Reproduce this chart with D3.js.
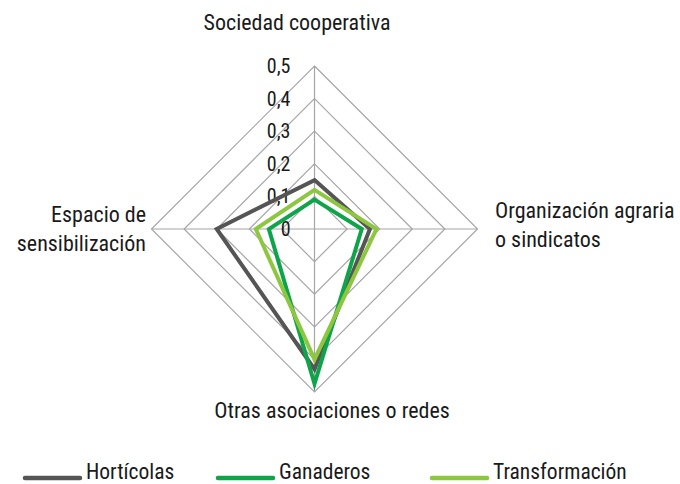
<!DOCTYPE html>
<html><head><meta charset="utf-8">
<script src="https://cdn.jsdelivr.net/npm/d3@7"></script>
<style>
body{margin:0;background:#fff;}
text{font-family:"Liberation Sans Narrow","Arial Narrow","Roboto Condensed","Liberation Sans",sans-serif;fill:#1a1a1a;}
</style></head>
<body><svg id="c" width="680" height="484"></svg>
<script>
const categories = ["Sociedad cooperativa", "Organización agraria o sindicatos", "Otras asociaciones o redes", "Espacio de sensibilización"];
const seriesNames = ["Hortícolas", "Ganaderos", "Transformación"];
const horticolas = [0.15, 0.17, 0.43, 0.30];
const ganaderos = [0.09, 0.145, 0.475, 0.14];
const transformacion = [0.12, 0.19, 0.40, 0.18];
const ticks = [0, 0.1, 0.2, 0.3, 0.4, 0.5];
const tickLabels = ["0", "0,1", "0,2", "0,3", "0,4", "0,5"];
const colors = ["#555555", "#0ea54a", "#8dc63f"];

const svg = d3.select("#c");
const cx = 314.5, cy = 229, R = 163;
const r = d3.scaleLinear().domain([0, 0.5]).range([0, R]);
const angle = i => -Math.PI/2 + i * 2*Math.PI/categories.length;
const pt = (i, v) => [cx + r(v)*Math.cos(angle(i)), cy + r(v)*Math.sin(angle(i))];

const grid = svg.append("g");
ticks.slice(1).forEach(t => {
  grid.append("path")
    .attr("d", d3.line()(categories.map((c,i)=>pt(i,t))) + "Z")
    .attr("fill","none").attr("stroke","#a6a6a6").attr("stroke-width",1.2);
});
categories.forEach((c,i) => {
  const [x,y] = pt(i, 0.5);
  grid.append("line").attr("x1",cx).attr("y1",cy).attr("x2",x).attr("y2",y)
    .attr("stroke","#a6a6a6").attr("stroke-width",1.2);
});

// tick labels
ticks.forEach((t,k) => {
  svg.append("text").attr("x", cx - 24).attr("y", cy - r(t))
    .attr("text-anchor","end").attr("dominant-baseline","central")
    .attr("font-size", 20).text(tickLabels[k]);
});

// series
const data = [horticolas, ganaderos, transformacion];
const lineGen = d3.line().curve(d3.curveLinearClosed);
data.forEach((vals, s) => {
  svg.append("path")
    .attr("d", lineGen(vals.map((v,i)=>pt(i,v))))
    .attr("fill","none").attr("stroke",colors[s]).attr("stroke-width",4)
    .attr("stroke-linejoin","miter");
});

// category labels
const fs = 22;
function lbl(lines, x, y0, anchor, lh){
  const t = svg.append("text").attr("font-size", fs).attr("text-anchor", anchor);
  lines.forEach((l,k)=> t.append("tspan").attr("x", x).attr("y", y0 + k*lh).text(l));
}
lbl(["Sociedad cooperativa"], 297, 30, "middle", 0);
lbl(["Organización agraria", "o sindicatos"], 495, 218, "start", 29);
lbl(["Espacio de", "sensibilización"], 146, 222, "end", 29);
lbl(["Otras asociaciones o redes"], 332, 418, "middle", 0);

// legend
const legX = [25, 218, 432];
seriesNames.forEach((n, s) => {
  svg.append("line").attr("x1", legX[s]).attr("x2", legX[s]+55).attr("y1", 478).attr("y2", 478)
    .attr("stroke", colors[s]).attr("stroke-width", 4.5).attr("stroke-linecap","round");
  svg.append("text").attr("x", legX[s]+61).attr("y", 479).attr("font-size", 21.5).text(n);
});
</script></body></html>
